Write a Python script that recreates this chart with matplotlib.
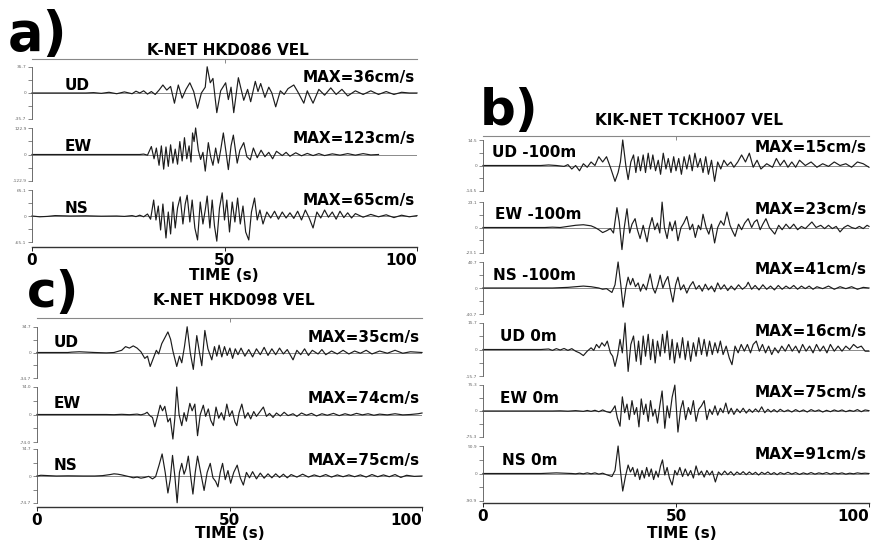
import matplotlib
matplotlib.use("Agg")
import matplotlib.pyplot as plt

W, H = 882, 541

# ---- panel a: K-NET HKD086 (time s, velocity cm/s) ----
a_ud = [(0, 0), (14, 0), (16, 0.5), (18, -0.5), (20, 1), (22, -1), (24, 1.5), (26, -1), (27, 2.5), (28, 0), (29, 3),
        (30, -1.5), (31, 2), (32, -2), (33, 4), (34, 11), (35, 4), (36, 9), (37, -14), (38, 11), (39, -7), (40, 5),
        (41, 14), (42, 2), (43, -21), (44, 0), (45, 8), (45.5, 36), (46.3, 14), (47, 20), (48, -27), (49, 3),
        (50.3, 14), (51, -9), (51.7, 8), (52.4, -27), (53.6, 21), (55, -10), (56, 5), (56.8, -12), (58, 16),
        (58.7, 2), (59.4, 13), (60.5, -6), (61.5, 8), (62.3, 0), (63.3, -19), (64.5, 3), (65.5, -2), (66.5, 6),
        (68, 11), (69, 2), (70.6, -14), (71.5, 3), (72, -3), (73, -14), (74.5, 5), (76, -3), (77.6, 7), (79, -2),
        (80.5, 5), (82, -4), (84, 3), (86, -2), (88, 3), (90, -2), (92, 2), (94, -2), (96, 1), (98, 0), (100, 0)]
a_ew = [(0, 0), (28, 0), (29, 2), (30, -3), (31, 37), (31.7, -20), (32.3, 30), (33, -50), (33.6, 40), (34.2, -68),
        (34.8, 35), (35.4, -55), (36, 45), (36.6, -40), (37.2, 25), (37.8, -45), (38.4, 60), (39, -30), (39.6, 78),
        (40.2, -20), (40.8, 40), (41.3, -35), (41.7, 100), (42.1, 60), (42.5, 123), (43.2, 20), (43.8, -23),
        (44.4, 10), (45, -77), (45.8, 55), (46.4, -10), (47, -50), (47.7, 30), (48.4, -40), (49, 20), (49.7, 100),
        (50.4, 10), (51, -70), (51.7, 40), (52.3, 90), (53.3, -40), (54, 20), (55, 55), (55.8, -10), (56.7, -25),
        (57.5, 30), (58.5, -15), (59.5, 20), (60.5, -10), (61.5, 10), (62.5, -20), (63.5, 15), (65, -5), (66, 10),
        (67, -8), (68.5, 8), (70, -6), (71.5, 5), (73, -5), (74.5, 4), (76, -5), (78, 3), (80, -3), (82, 4),
        (84, -3), (86, 4), (88, -2), (90, 0)]
a_ns = [(0, 0), (2, -2), (4, -1), (6, 1), (8, 0.5), (10, 0), (14, 0.5), (18, -0.5), (22, 0), (24, -1), (26, 1),
        (27, -1.5), (28, 2), (29, -2), (30, 5), (30.8, -8), (31.6, 40), (32.2, -10), (32.8, 25), (33.4, -35),
        (34, 30), (34.8, -55), (35.4, 10), (36, -45), (36.6, 35), (37.2, -30), (37.8, 20), (38.5, 48), (39.2, -20),
        (39.8, 30), (40.3, 52), (41, -15), (41.6, 40), (42.3, -30), (43, -60), (43.7, 35), (44.4, -20), (45, 15),
        (45.5, 50), (46.2, -30), (46.8, 40), (47.4, -25), (48, -63), (48.7, 20), (49.4, 58), (50, -10), (50.6, 40),
        (51.3, -40), (52, 35), (52.7, -15), (53.4, 45), (54.1, -20), (54.8, 25), (55.5, -40), (56.3, -60), (57, 10),
        (57.8, 45), (58.5, -10), (59.2, 15), (60, -20), (61, 10), (62, -5), (63, 12), (64, -8), (65, 10), (66, -5),
        (67, 8), (68, -6), (69, 12), (70, -10), (71, 15), (72, -5), (73, -30), (74, 10), (75, -5), (76, 15),
        (77, -3), (78, 10), (79, -8), (80, 12), (81, -4), (82, 8), (83, -5), (84, 6), (86, -3), (88, 4), (90, -2),
        (92, 3), (94, -4), (96, 2), (98, -2), (100, 1)]

# ---- panel c: K-NET HKD098 ----
c_ud = [(0, 0), (8, 0), (9, 0.5), (11, 1), (13, 0.5), (15, 0), (18, -0.5), (20, 0), (21, 1.5), (22, 3), (23, 8),
        (24, 6), (25, 9), (26, 6), (27, 1), (28, -8), (28.7, -5), (29.4, -19), (30.2, -8), (31, 3), (31.6, -2),
        (32.4, 12), (33.2, 20), (34, 28), (34.7, 18), (35.3, 2), (36.3, -19), (37, -5), (37.6, -14), (38.3, 8),
        (39, 35), (39.8, 0), (40.6, -23), (41.5, 23), (42.2, 0), (42.8, -18), (43.6, 30), (44.4, 5), (45.4, -10),
        (46.1, 8), (46.7, -5), (47.3, 10), (48, -6), (48.7, 8), (49.4, -4), (50.1, 6), (50.8, -8), (51.5, 5),
        (52.2, -3), (53, 6), (54, -5), (55, 4), (56, -6), (57, 5), (58, -3), (59, 7), (60, -4), (61, 5), (62, -3),
        (63, 6), (64, -2), (65, 4), (66.5, -10), (67.5, 3), (68.5, -3), (69.5, 5), (70.5, -4), (71.5, 3), (73, -2),
        (74, 4), (75, -3), (76.5, 2), (78, -2), (79.5, 3), (81, -2), (82.5, 2), (84, -1), (85.5, 3), (87, -2),
        (89, 2), (91, -1), (93, 3), (95, -1), (97, 1), (100, 0)]
c_ew = [(0, 0), (18, 0), (20, -0.5), (22, 0.5), (24, -0.5), (26, 1), (27, -1), (28, 2), (28.6, 6), (29.3, -3),
        (30, -8), (30.6, -33), (31.3, -5), (32, 25), (32.6, 10), (33.2, 22), (34, -20), (34.6, -10), (35.3, -66),
        (35.8, -10), (36.3, 74), (36.9, 0), (37.6, -30), (38.2, 5), (38.8, -18), (39.7, 30), (40.3, 10), (41, 28),
        (41.7, -57), (42.4, 0), (43.2, 25), (43.8, -5), (44.5, 15), (45.1, -15), (45.8, -30), (46.5, 20),
        (47.2, -10), (47.9, 5), (48.6, -15), (49.3, 28), (50, -5), (50.7, 10), (51.4, -20), (51.9, -30), (52.5, 5),
        (53.2, 28), (54, -10), (54.8, 5), (55.5, -12), (56.3, 8), (57, -5), (57.8, 6), (58.8, 20), (59.6, -5),
        (60.4, 3), (61.3, -8), (62.2, 4), (63.2, -4), (64.2, 6), (65.2, -3), (66.5, 2), (67.5, -5), (68.7, 4),
        (70, -2), (71.3, 3), (72.6, -4), (74, 2), (75.4, -2), (77, 3), (78.5, -3), (80, 2), (81.5, -2), (83, 3),
        (84.5, -1), (86, 2), (87.5, -2), (89, 1), (91, -1), (93, 2), (95, -1), (97, 0), (99, 2), (100, 4)]
c_ns = [(0, 0), (1, 2), (3, 1), (5, 0), (8, 0.5), (12, 0), (15, 0), (17, 1), (19, 4), (20, 6), (21, 5), (22, 3),
        (24, -2), (25, -5), (26, -3), (27, -6), (28, -4), (29, -1), (30, -8), (30.8, -2), (31.7, 30), (32.5, 61),
        (33.3, 10), (34, -47), (34.6, -10), (35.2, 57), (35.8, 0), (36.4, -74), (37, 10), (37.6, 35), (38.2, 5),
        (38.7, 20), (39.3, 55), (39.9, 0), (40.5, -50), (41.1, 10), (41.7, 55), (42.5, 10), (43.4, -40), (44.2, 10),
        (45, 35), (45.7, -5), (46.4, -15), (47, -30), (47.6, 10), (48.2, 35), (48.9, -10), (49.6, 15), (50.3, -20),
        (51.1, 10), (52, 30), (52.8, -5), (53.6, -25), (54.4, 10), (55.2, -5), (56, 12), (57, -8), (58, 8),
        (59, -6), (60, 6), (61, -5), (62, 6), (63, -4), (64, 5), (65, -5), (66, 4), (67.5, -3), (69, 5),
        (70.5, -3), (72, 3), (73.5, -2), (75, 4), (76.5, -3), (78, 3), (79.5, -2), (81, 3), (82.5, -2), (84, 3),
        (85.5, -3), (87, 4), (88.5, -2), (90, 3), (91.5, -2), (93, 4), (94.5, -4), (96, 2), (98, -1), (100, 0)]

# ---- panel b: KIK-NET TCKH007 ----
b_ud100 = [(0, 0), (15, 0), (17, 0.3), (19, 0), (21, -0.5), (22, 0.5), (23, -2), (24, 0), (25, -3), (26, 1),
           (27, -1), (28, 2), (29, 0), (30, 5), (31, 2), (32, 5), (33, -1), (34.2, -9), (35, -4), (35.6, 2),
           (36.2, 14.5), (37, 0), (37.6, -8), (38.3, 2), (39, 6), (39.6, -4), (40.2, 5), (40.8, -3), (41.5, 6),
           (42.1, -4), (42.8, 7), (43.4, -2), (44, 6), (44.7, -3), (45.4, 3), (46, -5), (46.7, 7), (47.4, -2),
           (48, 4), (48.7, -4), (49.4, 5), (50, -3), (50.7, 4), (51.4, -5), (52.1, 5), (52.8, -2), (53.5, 6),
           (54.2, -3), (54.9, 7), (55.6, -1), (56.3, 4), (57, -4), (57.7, 5), (58.4, -5), (59.2, 3), (60, -9),
           (60.8, 2), (61.6, -2), (62.4, 3), (63.3, 0), (64.2, 2), (65, -1), (66, 2), (67, 6), (68, 2), (69, 7),
           (70, -1), (71, 3), (72, -2), (73.5, 1), (75, -1), (76, 4), (77, 0), (78, 3), (79, -1), (80, 2), (81, -1),
           (82, 3), (83.5, 0), (85, 2), (86.5, -1), (88, 1), (89.5, -0.5), (91, 2), (92.5, 0), (94, 1), (95.5, -1),
           (97, 2), (98.5, 1), (100, -1)]
b_ew100 = [(0, 0), (16, 0), (18, 0.3), (20, 0), (22, 1), (24, 2), (26, 2.5), (28, 1.5), (29, 0), (30, -2),
           (31, -4.6), (32, -3), (33, -1), (33.8, -5), (34.7, 18), (35.3, 5), (36, -20), (36.6, 0), (37.3, 17),
           (38, -5), (38.6, 3), (39.4, 8), (40, -2), (40.7, -10), (41.5, 2), (42.5, -13), (43.1, 0), (43.8, 9),
           (44.5, -2), (45.2, 4), (45.8, -5), (46.4, 23), (47, 0), (47.7, -10), (48.4, 5), (49, -3), (49.8, 6),
           (50.5, -12), (51.3, 0), (52, 4), (52.8, 10), (53.6, -2), (54.3, 3), (55, -9), (55.8, 2), (56.4, -2),
           (57, 12), (57.8, 0), (58.5, -6), (59.2, 3), (60, -14), (60.8, 0), (61.6, 6), (62.4, 2), (63.2, 14),
           (64, 2), (64.6, -3), (65.3, -8), (66.2, 3), (67, -2), (67.8, 4), (68.7, 8), (69.6, 0), (70.3, 5),
           (71, 7), (71.8, -2), (72.5, 3), (73.3, 8), (74.2, 0), (75.6, -6), (76.6, 2), (77.5, -2), (78.5, 3),
           (79.5, -1), (80.5, 3), (81.5, -2), (82.5, 1), (83.5, -1), (85.2, 5), (86.3, 0), (87.5, 2), (88.5, -1),
           (89.5, 2), (90.5, -1), (91.5, 1), (92.5, -4), (93.5, 0), (94.5, 2), (95.5, 0), (96.5, -1), (97.5, 1),
           (98.5, -1), (99.5, 2), (100, 1)]
b_ns100 = [(0, 0), (18, 0), (20, 0.5), (22, 1), (24, 2), (26, 3), (28, 2), (30, 0), (31, -2), (32, -1),
           (33.4, -7), (34.2, 5), (35, 40.7), (35.7, 5), (36.3, -30), (37, 0), (37.6, 17), (38.2, 5), (38.8, 15),
           (39.5, 2), (40.2, 8), (40.8, -5), (41.5, 6), (42.3, -3), (43.3, 22), (44, 0), (44.6, -8), (45.3, 5),
           (45.9, 20), (46.6, 0), (47.2, 10), (47.9, 18), (48.6, -5), (49.2, -22), (49.9, 5), (50.5, 17),
           (51.2, -3), (52, 5), (52.8, -8), (53.6, 3), (54.4, 10), (55.2, -2), (56, 4), (56.8, -5), (57.6, 6),
           (58.4, -3), (59.2, 3), (60, -6), (60.8, 8), (61.6, -2), (62.5, 5), (63.4, -4), (64.3, 3), (65.2, -3),
           (66.2, 5), (67.2, -2), (68.2, 3), (68.7, 9), (69.6, -2), (70.5, 4), (71.5, -3), (72.5, 5), (73.5, -2),
           (74.5, 3), (75.5, -3), (76.5, 4), (77.5, -2), (78.5, 3), (79.5, -1), (80.5, 4), (81.5, -2), (82.5, 3),
           (83.5, -1), (84.5, 3), (85.5, -2), (86.5, 2), (88, -1), (89.5, 3), (91, -2), (92.5, 2), (94, -1),
           (95.5, 2), (97, -2), (98.5, 1), (100, 0)]
b_ud0 = [(0, 0), (15, 0), (17, 0.3), (18, -0.5), (19, 0.5), (20, -0.3), (21, 0.6), (22, -0.5), (23, 0.5), (24, -1),
         (25, -2), (26, -3.6), (27, -1), (28, 1), (28.7, -0.5), (29.4, 3), (30.1, 1), (30.8, 4), (31.5, 2),
         (32.2, 5), (33, -2), (33.6, -4), (34.2, -10), (34.9, -3), (35.5, 6), (36.1, -2), (36.8, 15.7), (37.6, -13),
         (38.3, 3), (39, 8), (39.7, -7), (40.3, 5), (40.9, -9), (41.5, 8), (42.1, -4), (42.8, 9), (43.4, -6),
         (44, 6), (44.6, -8), (45.2, 5), (45.9, -4), (46.5, 9), (47.1, -2), (47.7, 11), (48.4, -6), (49, 6),
         (49.6, -8), (50.3, 4), (51, -5), (51.7, 7), (52.4, -6), (53.1, 5), (53.8, -7), (54.5, 4), (55.2, -4),
         (55.9, 7), (56.6, -3), (57.3, 6), (58, -4), (58.7, 5), (59.4, -3), (60.1, 4), (60.8, -2), (61.5, 5),
         (62.2, -3), (63, 2), (63.8, -5), (64.5, -9), (65.3, 2), (66.1, -2), (66.9, 3), (67.7, -1), (68.5, 3),
         (69.3, -2), (70, 3), (70.8, 5), (71.6, -1), (72.4, 3), (73.2, -2), (74, 2), (74.8, -3), (75.6, 1),
         (76.5, -2), (77.4, 2), (78.3, -1), (79.2, 3), (80.1, -1), (81, 2), (81.9, -2), (82.8, 3), (83.7, -1),
         (84.6, 2), (85.5, -2), (86.4, 3), (87.3, -1), (88.2, 2), (89.1, -2), (90, 3), (91, -1), (92, 2), (93, -1),
         (94, 2), (95, 0), (96, 3), (97, 1), (98, 2), (99, -1), (100, -1)]
b_ew0 = [(0, 0), (18, 0), (20, 0.5), (22, -0.5), (24, 1), (26, -1), (27, 1.5), (28, -1), (29, 2), (30, -2), (31, 3),
         (32, -2), (33, -5), (33.6, 4), (34.2, 15), (34.8, -20), (35.5, -44), (36.1, 41), (36.7, -5), (37.3, 20),
         (37.9, -25), (38.6, 30), (39.2, -10), (39.8, 10), (40.4, -46), (41, 35), (41.6, -10), (42.2, 20),
         (42.8, -30), (43.4, 30), (44, -15), (44.6, 5), (45.2, -35), (45.8, 15), (46.4, 58), (47.1, -50),
         (47.7, 15), (48.3, -20), (49, 40), (49.7, 75), (50.5, -61), (51.2, 5), (51.8, 30), (52.5, -25), (53.2, 10),
         (53.8, -10), (54.5, 30), (55.2, -30), (55.9, 5), (56.6, 15), (57.3, 30), (58, -25), (58.7, 5), (59.4, -10),
         (60.1, 15), (60.8, -12), (61.5, 8), (62.2, -5), (62.9, 23), (63.6, -8), (64.3, 8), (65, -10), (65.8, 6),
         (66.6, -5), (67.4, 8), (68.2, -6), (69, 5), (69.8, -4), (70.6, 6), (71.4, -3), (72.2, 12), (73, -5),
         (73.8, 5), (74.6, -3), (75.4, 4), (76.2, -3), (77, 5), (78, -2), (79, 3), (80, -3), (81, 4), (82, -2),
         (83, 3), (84, -3), (85, 4), (86, -1), (87, 3), (88, -3), (89, 2), (90, -2), (91, 3), (92, -1), (93, 3),
         (94, -2), (95, 2), (96, -1), (97, 4), (98, -2), (99, 3), (100, 1)]
b_ns0 = [(0, 0), (15, 0), (17, 1), (19, 2), (21, 1), (23, 0), (24, -1), (25, 1), (26, -1), (27, 2), (28, -1),
         (29, 2), (30, -2), (31, 1), (32, -4), (33.4, -10), (34.2, 10), (35, 90.9), (35.6, 10), (36.2, -58),
         (36.9, -10), (37.6, 28), (38.2, 5), (38.8, 20), (39.4, -10), (40, 15), (40.6, -20), (41.2, 10),
         (41.8, -15), (42.4, 20), (43, -10), (43.6, 15), (44.2, -20), (44.8, 8), (45.4, -12), (46, 25), (46.5, 45),
         (47.1, -5), (47.7, 20), (48.3, -15), (49, -38), (49.7, 10), (50.3, -5), (51, 20), (51.7, -10), (52.4, 15),
         (53.1, -8), (53.8, 10), (54.5, -15), (55.2, 25), (55.9, -5), (56.6, 8), (57.3, -12), (58, 10), (58.7, -5),
         (59.4, 8), (60.2, -28), (61, 5), (61.8, -5), (62.6, 8), (63.4, -4), (64.2, 6), (65, -6), (65.8, 5),
         (66.6, -3), (67.4, 6), (68.2, -4), (69, 5), (69.8, -3), (70.6, 4), (71.4, -5), (72.2, 4), (73, -2),
         (73.8, 5), (74.6, -3), (75.4, 3), (76.2, -4), (77, 3), (78, -2), (79, 4), (80, -2), (81, 3), (82, -3),
         (83, 2), (84, -2), (85, 3), (86, -2), (87, 2), (88, -1), (89, 3), (90, -2), (91, 2), (92, -1), (93, 2),
         (94, -2), (95, 1), (96, -1), (97, 2), (98, 0), (99, 1), (100, 0)]

# axis limits shown on the small y labels, trace names and peak values
a_lims = [35.7, 122.9, 65.1]
c_lims = [34.7, 74.0, 74.7]
b_lims = [14.5, 23.1, 40.7, 15.7, 75.3, 90.9]
a_names = ["UD", "EW", "NS"]
b_names = ["UD -100m", "EW -100m", "NS -100m", "UD 0m", "EW 0m", "NS 0m"]
a_max = ["MAX=36cm/s", "MAX=123cm/s", "MAX=65cm/s"]
c_max = ["MAX=35cm/s", "MAX=74cm/s", "MAX=75cm/s"]
b_max = ["MAX=15cm/s", "MAX=23cm/s", "MAX=41cm/s", "MAX=16cm/s", "MAX=75cm/s", "MAX=91cm/s"]

fig = plt.figure(figsize=(W / 100, H / 100), dpi=100)
FONT = "DejaVu Sans"


def box(x0, x1, ytop, ybot):
    return [x0 / W, 1 - ybot / H, (x1 - x0) / W, (ybot - ytop) / H]


def trace(pos, data, lim, name, maxtxt, name_t, name_y, max_y):
    ax = fig.add_axes(box(*pos))
    ax.patch.set_visible(False)
    t = [p[0] for p in data]
    v = [p[1] for p in data]
    ax.axhline(0, color="#8a8a8a", lw=0.7, zorder=1)
    ax.plot(t, v, color="#1c1c1c", lw=0.85, clip_on=False, zorder=2)
    ax.set_xlim(0, 100)
    ax.set_ylim(-lim, lim)
    for s in ["top", "right", "bottom"]:
        ax.spines[s].set_visible(False)
    ax.spines["left"].set_linewidth(0.6)
    ax.spines["left"].set_color("#555555")
    ax.set_xticks([])
    ax.set_yticks([-lim, -lim / 2, 0, lim / 2, lim])
    ax.set_yticklabels(["-%.1f" % lim, "", "0", "", "%.1f" % lim], fontsize=3.2, color="#666666")
    ax.tick_params(axis="y", length=3, width=0.5, pad=1, color="#555555")
    tr = ax.get_xaxis_transform()
    ax.text(name_t, name_y, name, transform=tr, fontsize=11, fontweight="bold", family=FONT,
            va="baseline", ha="left")
    ax.text(99.5, max_y, maxtxt, transform=tr, fontsize=11, fontweight="bold", family=FONT,
            va="baseline", ha="right")


def frame(x0, x1, ytop, ybot, pad):
    ax = fig.add_axes(box(x0, x1, ytop, ybot))
    ax.patch.set_visible(False)
    ax.set_xlim(0, 100)
    ax.set_yticks([])
    for s in ["left", "right", "top"]:
        ax.spines[s].set_visible(False)
    ax.spines["bottom"].set_color("#333333")
    ax.spines["bottom"].set_linewidth(1.0)
    ax.set_xticks([0, 50, 100])
    ax.set_xticklabels(["0", "50", "100"], fontsize=11, fontweight="bold", family=FONT)
    ax.get_xticklabels()[-1].set_ha("right")
    ax.tick_params(axis="x", length=3, width=0.6, pad=pad)
    top = ax.secondary_xaxis("top")
    top.set_xticks([50])
    top.set_xticklabels([""])
    top.tick_params(direction="in", length=3, width=0.6, color="#777777")
    top.spines["top"].set_color("#888888")
    top.spines["top"].set_linewidth(0.8)
    return ax


# panel a
frame(32, 417, 59, 247, 1)
a_pos = [(32, 417, 67, 119), (32, 417, 128, 181), (32, 417, 190, 242)]
for d, pos, lim, nm, mx in zip([a_ud, a_ew, a_ns], a_pos, a_lims, a_names, a_max):
    trace(pos, d, lim, nm, mx, 8.4, 0.56, 0.71)
fig.text(8 / W, 1 - 50 / H, "a)", fontsize=38, fontweight="bold", family=FONT, va="baseline")
fig.text(228 / W, 1 - 55 / H, "K-NET HKD086 VEL", fontsize=11, fontweight="bold", family=FONT,
         ha="center", va="baseline")
fig.text(224 / W, 1 - 280 / H, "TIME (s)", fontsize=11, fontweight="bold", family=FONT,
         ha="center", va="baseline")

# panel c
frame(37, 422, 318, 507, 1)
c_pos = [(37, 422, 327, 378), (37, 422, 387, 442), (37, 422, 449, 503)]
for d, pos, lim, nm, mx in zip([c_ud, c_ew, c_ns], c_pos, c_lims, a_names, c_max):
    trace(pos, d, lim, nm, mx, 4.2, 0.61, 0.71)
fig.text(27 / W, 1 - 307 / H, "c)", fontsize=36, fontweight="bold", family=FONT, va="baseline")
fig.text(234 / W, 1 - 305 / H, "K-NET HKD098 VEL", fontsize=11, fontweight="bold", family=FONT,
         ha="center", va="baseline")
fig.text(230 / W, 1 - 538 / H, "TIME (s)", fontsize=11, fontweight="bold", family=FONT,
         ha="center", va="baseline")

# panel b
frame(483, 869, 136, 503, 1)
b_pos = [(483, 869, 140, 191), (483, 869, 202, 253), (483, 869, 262, 314),
         (483, 869, 323, 376), (483, 869, 385, 437), (483, 869, 446, 501)]
b_name_t = [2.3, 3.1, 2.6, 4.4, 4.4, 4.9]
for d, pos, lim, nm, mx, nt in zip([b_ud100, b_ew100, b_ns100, b_ud0, b_ew0, b_ns0],
                                   b_pos, b_lims, b_names, b_max, b_name_t):
    trace(pos, d, lim, nm, mx, nt, 0.66, 0.76)
fig.text(480 / W, 1 - 125 / H, "b)", fontsize=36, fontweight="bold", family=FONT, va="baseline")
fig.text(689 / W, 1 - 125 / H, "KIK-NET TCKH007 VEL", fontsize=11, fontweight="bold", family=FONT,
         ha="center", va="baseline")
fig.text(682 / W, 1 - 538 / H, "TIME (s)", fontsize=11, fontweight="bold", family=FONT,
         ha="center", va="baseline")

fig.savefig("out.png", dpi=100)
